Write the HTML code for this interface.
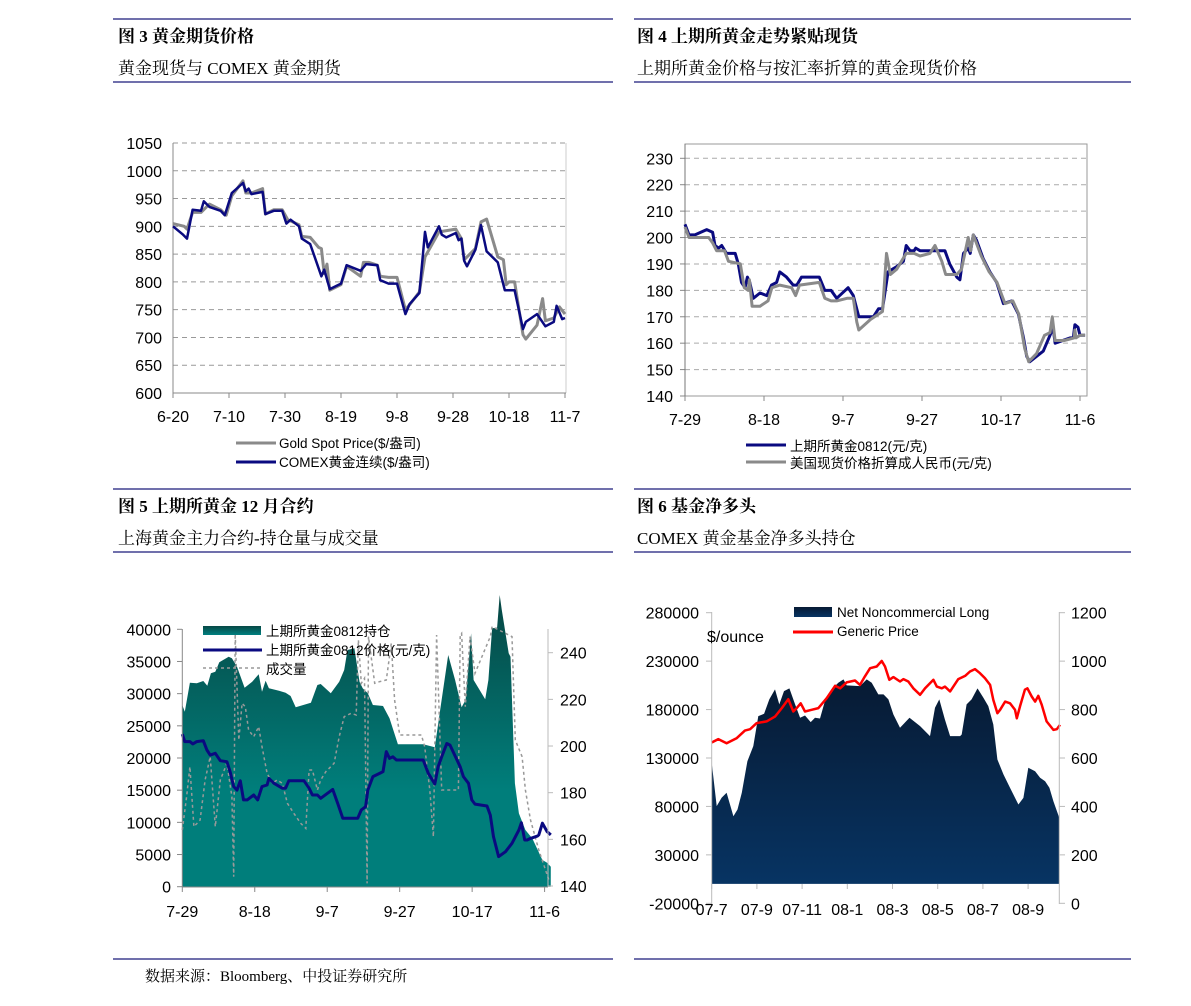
<!DOCTYPE html>
<html><head><meta charset="utf-8">
<style>
html,body{margin:0;padding:0;background:#fff;}
body{width:1191px;height:1006px;position:relative;overflow:hidden;}
svg{position:absolute;left:0;top:0;}
.hd{font-family:"Liberation Serif","Noto Serif CJK SC",serif;fill:#000;}
.tk{font-family:"Liberation Sans","Noto Sans CJK SC",sans-serif;font-size:16px;fill:#000;}
.lg{font-family:"Liberation Sans","Noto Sans CJK SC",sans-serif;font-size:13.5px;fill:#000;}
</style></head>
<body>
<svg id="s" width="1191" height="1006" viewBox="0 0 1191 1006" xmlns="http://www.w3.org/2000/svg">
<defs>
<linearGradient id="teal" gradientUnits="userSpaceOnUse" x1="0" y1="600" x2="0" y2="790">
<stop offset="0" stop-color="#074845"/><stop offset="1" stop-color="#007e7b"/></linearGradient>
<linearGradient id="navy" gradientUnits="userSpaceOnUse" x1="0" y1="680" x2="0" y2="884">
<stop offset="0" stop-color="#071a33"/><stop offset="1" stop-color="#073463"/></linearGradient>
<linearGradient id="tealsw" x1="0" y1="0" x2="0" y2="1"><stop offset="0" stop-color="#074845"/><stop offset="1" stop-color="#008080"/></linearGradient>
<linearGradient id="navysw" x1="0" y1="0" x2="0" y2="1"><stop offset="0" stop-color="#071a33"/><stop offset="1" stop-color="#073463"/></linearGradient>
</defs>
<g>
<line x1="113" y1="19" x2="613" y2="19" stroke="#1a1a7a" stroke-width="1.3"/>
<text class="hd" x="118" y="42" font-size="17" font-weight="bold">图 3  黄金期货价格</text>
<text class="hd" x="118" y="74" font-size="17">黄金现货与 COMEX 黄金期货</text>
<line x1="113" y1="82" x2="613" y2="82" stroke="#1a1a7a" stroke-width="1.3"/>
</g>
<g>
<line x1="634" y1="19" x2="1131" y2="19" stroke="#1a1a7a" stroke-width="1.3"/>
<text class="hd" x="637" y="42" font-size="17" font-weight="bold">图 4  上期所黄金走势紧贴现货</text>
<text class="hd" x="637" y="74" font-size="17">上期所黄金价格与按汇率折算的黄金现货价格</text>
<line x1="634" y1="82" x2="1131" y2="82" stroke="#1a1a7a" stroke-width="1.3"/>
</g>
<g>
<line x1="113" y1="489" x2="613" y2="489" stroke="#1a1a7a" stroke-width="1.3"/>
<text class="hd" x="118" y="512" font-size="17" font-weight="bold">图 5  上期所黄金 12 月合约</text>
<text class="hd" x="118" y="544" font-size="17">上海黄金主力合约-持仓量与成交量</text>
<line x1="113" y1="552" x2="613" y2="552" stroke="#1a1a7a" stroke-width="1.3"/>
</g>
<g>
<line x1="634" y1="489" x2="1131" y2="489" stroke="#1a1a7a" stroke-width="1.3"/>
<text class="hd" x="637" y="512" font-size="17" font-weight="bold">图 6  基金净多头</text>
<text class="hd" x="637" y="544" font-size="17">COMEX 黄金基金净多头持仓</text>
<line x1="634" y1="552" x2="1131" y2="552" stroke="#1a1a7a" stroke-width="1.3"/>
</g>
<line x1="113" y1="959" x2="613" y2="959" stroke="#1a1a7a" stroke-width="1.3"/>
<line x1="634" y1="959" x2="1131" y2="959" stroke="#1a1a7a" stroke-width="1.3"/>
<text class="hd" x="145" y="981" font-size="15">数据来源：Bloomberg、中投证券研究所</text>
<g id="c1"></g>
<g id="c2"></g>
<g id="c3"></g>
<g id="c4"></g>
</svg>
<script>
// ---- Chart 1 data (days since 6-20) ----
const c1Ticks=["6-20","7-10","7-30","8-19","9-8","9-28","10-18","11-7"];
const c1YTicks=[600,650,700,750,800,850,900,950,1000,1050];
const c1ComexDays=[0,3.6,5,7,10,11,13,17,18.5,21,25,26,27,28,32,33,36,39,40.5,42,45,46,49,53,54,56,60,62,67,69,73,74,77,80,83,84.5,88,90,91,95,96,97.6,101,102,103,104,105,108,110,112,116,118.5,122,125,126,130,133,136,137,139,140];
const c1ComexVals=[900,885,878,930,928,945,935,928,920,960,978,963,968,958,962,922,928,928,905,912,900,878,868,810,822,787,797,830,820,832,830,803,797,797,742,760,780,890,862,900,885,880,888,875,878,838,828,858,902,855,835,785,785,715,728,742,720,728,757,733,735];
const c1SpotDays=[0,4,5,7,10,13,17,19,21,25,26,28,32,33,36,39,41,45,46,49,52,53,54,55,56,60,62,67,68,70,73,74,77,80,83,85,88,90,95,101,103,104,108,110,112,116,118,119,120,122,125,126,130,132,133,136,138,140];
const c1SpotVals=[905,900,895,925,925,940,930,920,955,982,960,960,968,922,930,930,912,903,882,880,862,860,815,832,785,795,828,810,835,835,830,810,808,808,750,762,782,845,890,895,878,840,860,908,913,845,840,795,800,800,705,697,722,770,730,735,755,742];
// ---- Chart 2 data (days since 7-29) ----
const c2Ticks=["7-29","8-18","9-7","9-27","10-17","11-6"];
const c2YTicks=[140,150,160,170,180,190,200,210,220,230];
const c2ShfeDays=[0,1,2.5,4,5.5,7,7.6,8.5,9.3,10.5,12.7,13.5,14.3,15.2,15.8,16.4,17.3,19,20.7,21.9,23.2,24,25.7,27.4,28.3,29.5,34,35.4,37,38.4,41.3,42.6,44,47.7,49,50,51,51.4,53.6,55.3,56,57,58,58.4,59.5,65.8,67,68.8,69.6,70.5,71.7,72.2,73,73.8,75.5,77.2,78.9,80.6,82.7,84.4,85.7,86.5,87.3,90.7,92.4,93.2,93.7,97.5,98.3,98.7,99.5,100,101.3];
const c2ShfeVals=[205,201,201,202,203,202,197,196,197,194,194,190,183,181,185,183,177,179,178,182,183,187,185,182,182,185,185,180,180,177,181,178,170,170,173,173,183,187,189,191,197,195,195,196,195,195,190,185,184,194,196,194,201,199,192,187,183,175,176,171,162,155,153,157,163,166,160,162,162,167,166,163,163];
const c2SpotDays=[0,1,3,6,7,8,10,11,14,15,16,16.3,17,19,21,22,24,27,28,29,34,35.4,37,38.4,41,42.6,43.5,44,47,49,50,51,52,53.6,56,58,59.5,62,63.3,65,66,68.8,70,71.7,72.3,73,75,77,79,81,83,84.5,86,87,89,91,92.4,93,93.7,96,98.5,98.7,99,100,101.3];
const c2SpotVals=[204,200,200,200,198,195,195,191,190,181,180,184,174,174,176,181,182,181,178,182,183,177,176,176,177,177,168,165,169,171,172,194,186,188,194,194,193,194,197,191,186,186,188,200,195,201,193,187,183,175,176,171,158,153,156,163,164,170,161,161,162,165,162,163,163];
// ---- Chart 3 data (days since 7-29) ----
const c3Ticks=["7-29","8-18","9-7","9-27","10-17","11-6"];
const c3LeftTicks=[0,5000,10000,15000,20000,25000,30000,35000,40000];
const c3RightTicks=[140,160,180,200,220,240];
const c3OiDays=[0,0.7,2.1,4,5.8,6.9,7.9,9.1,10.2,12.8,13.7,15.1,17.2,19.3,21.1,22,23,23.9,26.7,28.5,29.9,31.3,35.5,37.3,38.2,41,43.3,44.7,45.6,47.5,48.9,49.8,51.2,52.6,55.4,57.2,59.5,66.5,69.7,71.1,73.4,75.3,77.1,78.2,79.7,80.4,83.6,84.5,85.5,86.9,87.6,88.2,90.1,90.6,91.8,92.9,94.7,96.6,99.4,100.7,101.7];
const c3OiVals=[28236,27200,31708,31604,31967,31241,33158,33417,34868,35749,35490,34195,30931,31863,33003,30309,32019,30827,30464,30153,29635,27874,28599,31345,31500,30050,31863,33676,36785,37044,31863,30827,30050,28236,28081,26164,22123,22123,21657,27200,36008,32122,27874,29014,39376,32122,29117,32122,40153,40257,45334,43002,36267,35749,16061,11398,8808,7512,4145,3730,3109];
const c3PriceDays=[0,0.7,2.1,2.9,4,5.8,6.8,7.7,9.1,10.5,12.3,13.2,14.2,15.1,16,16.9,17.9,19.7,20.8,22,23.4,23.9,25.3,27.6,28.5,29.4,33.6,35,35.9,37.3,38.2,41.5,42.9,44.3,48.4,49.4,50.6,51.2,52.6,55.4,56.3,57.2,58.1,59.1,66.5,67.9,69.7,70.6,71.6,73,73.9,76.7,77.6,79,79.9,80.8,84.1,85,85.9,87.3,89.2,91,92.9,93.6,94.5,95.2,96.1,98,98.4,99.4,100.7,101.7];
const c3PriceVals=[205.1,201.9,201.9,200.9,201.9,202.3,198.3,196.1,196.9,193.7,193.3,189,182.6,181.1,185.1,176.9,176.9,179,176.9,182.6,183.3,186.1,184,181.9,181.9,185.1,185.1,181.9,179,179,177.6,181.4,175.4,169,169,172.6,174,181.1,186.9,189,197.6,194.7,195.4,194,194,188.3,183.7,191.1,195.4,201.1,200.4,191.1,186.9,184,176.9,175.1,174.3,170.4,161.1,152.6,154.7,158.3,164,167.1,159.7,159.7,160.4,161.4,161.9,166.9,163.3,161.9];
const c3VolDays=[0,1.2,2.1,3.2,4.9,6.3,7.7,9.1,10.5,12.3,13.7,14.2,14.6,15.6,16.5,17.4,18.3,19.7,21.1,22,23.4,24.8,26.2,27.6,29,30.8,32.7,34.1,35,35.9,37.3,38.2,39.6,41.9,43.3,44.7,46.6,48,48.6,49.4,50.3,51,51.4,53.1,54.4,56.3,57.7,58.6,60,66,66.9,68.3,69.3,70.2,71.6,76.2,76.7,77.1,78.1,79.4,80.8,85,85.5,91,91.9,93.8,94.7,96.1,98.4,101.2];
const c3VolVals=[8808,13989,18652,9326,10362,16579,20206,9326,16579,19170,13989,1554,39376,22796,28496,27977,24351,23315,24869,21760,17615,16061,16579,16061,12953,11398,9844,9067,18134,18134,15025,16579,17874,19170,23315,26423,26941,26682,38339,31604,32381,518,38858,31604,31863,32122,37821,29014,23574,23574,21760,15025,7772,39117,15025,15025,39117,39376,27977,38858,33158,38858,40412,38858,22796,20206,15025,10362,5699,1036];
// ---- Chart 4 data (months since 2007-07) ----
const c4Ticks=["07-7","07-9","07-11","08-1","08-3","08-5","08-7","08-9"];
const c4LeftTicks=[-20000,30000,80000,130000,180000,230000,280000];
const c4RightTicks=[0,200,400,600,800,1000,1200];
const c4LongMonths=[0,.22,.44,.66,.96,1.14,1.33,1.58,1.84,2.06,2.32,2.55,2.8,2.99,3.2,3.44,3.69,3.91,4.13,4.38,4.57,4.79,5.01,5.31,5.6,5.83,5.97,6.56,6.86,7.08,7.37,7.6,7.82,8.04,8.33,8.75,9.22,9.66,9.88,10.07,10.32,10.55,10.99,11.06,11.28,11.5,11.76,12.02,12.24,12.46,12.64,12.91,13.2,13.57,13.79,14.01,14.31,14.53,14.75,14.94,15.12,15.38];
const c4LongVals=[125017,80365,88975,94141,69913,76801,94141,126739,142237,173233,175644,190453,200785,185287,199063,201818,185287,171511,173922,167034,171511,170822,188731,200785,207673,211117,204918,204229,211117,207673,195619,195619,190453,174955,161179,171511,162902,152569,181843,190453,169789,152569,152569,154291,185287,190453,201818,192175,183565,164623,128461,112962,99187,81967,88855,119851,116407,109519,106075,99187,85411,68191];
const c4PriceMonths=[0,.29,.66,1.11,1.47,1.7,1.99,2.43,2.8,3.1,3.39,3.61,3.76,3.94,4.13,4.42,4.72,5.09,5.46,5.68,5.97,6.34,6.56,6.78,7.01,7.3,7.52,7.67,7.86,8.04,8.33,8.48,8.7,8.92,9.22,9.44,9.81,9.96,10.18,10.32,10.55,10.91,11.21,11.43,11.65,11.87,12.09,12.32,12.46,12.64,12.76,12.98,13.2,13.42,13.5,13.64,13.86,13.97,14.16,14.31,14.45,14.6,14.82,15.12,15.27,15.41];
const c4PriceVals=[664,678,661,682,713,719,744,751,771,806,843,792,806,826,792,799,806,847,898,888,912,920,902,937,971,978,1001,978,923,934,916,926,916,888,861,888,923,895,888,895,875,926,939,957,967,950,930,902,840,785,799,833,826,799,764,813,882,888,854,833,857,820,751,716,719,737];

const NS='http://www.w3.org/2000/svg';
function mk(parent,tag,attrs,txt){const e=document.createElementNS(NS,tag);for(const k in attrs)e.setAttribute(k,attrs[k]);if(txt!==undefined)e.textContent=txt;parent.appendChild(e);return e;}
function lin(d0,d1,r0,r1){return v=>r0+(v-d0)/(d1-d0)*(r1-r0);}
function pathD(xs,ys,fx,fy){return xs.map((x,i)=>(i?'L':'M')+fx(x).toFixed(1)+' '+fy(ys[i]).toFixed(1)).join(' ');}

// ===== Chart 1 =====
(function(){
const g=document.getElementById('c1');
const X=lin(0,140,173,565), Y=lin(600,1050,393,143);
c1YTicks.forEach(v=>{
 if(v>600){const l=mk(g,'line',{x1:173,x2:566,y1:Y(v),y2:Y(v),stroke:'#999','stroke-dasharray':'5,4','stroke-width':1});
 }
 const t=mk(g,'text',{class:'tk',x:162,y:Y(v)+6,'text-anchor':'end'},String(v));
 
});
mk(g,'line',{x1:566,x2:566,y1:143,y2:393,stroke:'#ccc'});
mk(g,'line',{x1:173,x2:173,y1:143,y2:393,stroke:'#888'});
mk(g,'line',{x1:173,x2:566,y1:393,y2:393,stroke:'#888'});
c1Ticks.forEach((s,i)=>{const x=X(i*20);
 mk(g,'line',{x1:x,x2:x,y1:393,y2:398,stroke:'#888'});
 const t=mk(g,'text',{class:'tk',x:x,y:422,'text-anchor':'middle'},s);
 });
const p1=mk(g,'path',{d:pathD(c1SpotDays,c1SpotVals,X,Y),fill:'none',stroke:'#8a8a8a','stroke-width':3,'stroke-linejoin':'round'});

const p2=mk(g,'path',{d:pathD(c1ComexDays,c1ComexVals,X,Y),fill:'none',stroke:'#0a0a80','stroke-width':2.5,'stroke-linejoin':'round'});

const lg=mk(g,'g',{});
mk(lg,'line',{x1:236,x2:276,y1:443,y2:443,stroke:'#8a8a8a','stroke-width':3});
mk(lg,'text',{class:'lg',x:279,y:448},'Gold Spot Price($/盎司)');
mk(lg,'line',{x1:236,x2:276,y1:462,y2:462,stroke:'#0a0a80','stroke-width':3});
mk(lg,'text',{class:'lg',x:279,y:467},'COMEX黄金连续($/盎司)');
})();

// ===== Chart 2 =====
(function(){
const g=document.getElementById('c2');
const X=lin(0,100,685,1080), Y=lin(140,230,396,158.3);
mk(g,'rect',{x:685,y:144,width:402,height:252,fill:'none',stroke:'#999'});
c2YTicks.forEach(v=>{
 if(v>140){const l=mk(g,'line',{x1:685,x2:1087,y1:Y(v),y2:Y(v),stroke:'#aaa','stroke-dasharray':'5,4'});
 }
 mk(g,'line',{x1:680,x2:685,y1:Y(v),y2:Y(v),stroke:'#888'});
 const t=mk(g,'text',{class:'tk',x:673,y:Y(v)+6,'text-anchor':'end'},String(v));
 
});
mk(g,'line',{x1:685,x2:685,y1:144,y2:396,stroke:'#777'});
c2Ticks.forEach((s,i)=>{const x=X(i*20);
 mk(g,'line',{x1:x,x2:x,y1:396,y2:401,stroke:'#888'});
 const t=mk(g,'text',{class:'tk',x:x,y:425,'text-anchor':'middle'},s);
 });
const p1=mk(g,'path',{d:pathD(c2ShfeDays,c2ShfeVals,X,Y),fill:'none',stroke:'#0a0a80','stroke-width':3,'stroke-linejoin':'round'});

const p2=mk(g,'path',{d:pathD(c2SpotDays,c2SpotVals,X,Y),fill:'none',stroke:'#8a8a8a','stroke-width':3,'stroke-linejoin':'round'});

const lg=mk(g,'g',{});
mk(lg,'line',{x1:746,x2:786,y1:445,y2:445,stroke:'#0a0a80','stroke-width':3});
mk(lg,'text',{class:'lg',x:790,y:451,'font-size':14},'上期所黄金0812(元/克)');
mk(lg,'line',{x1:746,x2:786,y1:462,y2:462,stroke:'#8a8a8a','stroke-width':3});
mk(lg,'text',{class:'lg',x:790,y:468,'font-size':14},'美国现货价格折算成人民币(元/克)');
})();

// ===== Chart 3 =====
(function(){
const g=document.getElementById('c3');
const X=lin(0,100,182.3,544.6), YL=lin(0,40000,886.7,629.3), YR=lin(140,240,886,652.7);
const d='M'+X(c3OiDays[0])+' '+YL(0)+' '+pathD(c3OiDays,c3OiVals,X,YL).replace('M','L')+' L'+X(c3OiDays[c3OiDays.length-1])+' '+YL(0)+' Z';
const a=mk(g,'path',{d:d,fill:'url(#teal)'});

const v=mk(g,'path',{d:pathD(c3VolDays,c3VolVals,X,YL),fill:'none',stroke:'#999','stroke-width':1.5,'stroke-dasharray':'3,3'});

const p=mk(g,'path',{d:pathD(c3PriceDays,c3PriceVals,X,YR),fill:'none',stroke:'#0a0a80','stroke-width':3,'stroke-linejoin':'round'});

mk(g,'line',{x1:182.3,x2:182.3,y1:629,y2:887,stroke:'#888'});
mk(g,'line',{x1:548,x2:548,y1:629,y2:887,stroke:'#bbb'});
mk(g,'line',{x1:182.3,x2:548,y1:887,y2:887,stroke:'#888'});
c3LeftTicks.forEach(val=>{
 mk(g,'line',{x1:177,x2:182,y1:YL(val),y2:YL(val),stroke:'#888'});
 const t=mk(g,'text',{class:'tk',x:171,y:YL(val)+6,'text-anchor':'end'},String(val));
 });
c3RightTicks.forEach(val=>{
 mk(g,'line',{x1:548,x2:553,y1:YR(val),y2:YR(val),stroke:'#bbb'});
 const t=mk(g,'text',{class:'tk',x:560,y:YR(val)+6},String(val));
 });
c3Ticks.forEach((s,i)=>{const x=X(i*20);
 mk(g,'line',{x1:x,x2:x,y1:887,y2:892,stroke:'#888'});
 const t=mk(g,'text',{class:'tk',x:x,y:917,'text-anchor':'middle'},s);
 });
const lg=mk(g,'g',{});
mk(lg,'rect',{x:203,y:626,width:58,height:9,fill:'url(#tealsw)'});
mk(lg,'text',{class:'lg',x:266,y:636,'font-size':14},'上期所黄金0812持仓');
mk(lg,'line',{x1:203,x2:262,y1:650,y2:650,stroke:'#0a0a80','stroke-width':3});
mk(lg,'text',{class:'lg',x:266,y:655,'font-size':14},'上期所黄金0812价格(元/克)');
mk(lg,'line',{x1:203,x2:262,y1:668,y2:668,stroke:'#999','stroke-width':1.5,'stroke-dasharray':'3,3'});
mk(lg,'text',{class:'lg',x:266,y:674,'font-size':14},'成交量');
})();

// ===== Chart 4 =====
(function(){
const g=document.getElementById('c4');
const X=lin(0,15.38,711.7,1059.3), YL=lin(-20000,280000,903.3,612.7), YR=lin(0,1200,903.3,612.7);
const d='M'+X(c4LongMonths[0])+' '+YL(0)+' '+pathD(c4LongMonths,c4LongVals,X,YL).replace('M','L')+' L'+X(c4LongMonths[c4LongMonths.length-1])+' '+YL(0)+' Z';
const a=mk(g,'path',{d:d,fill:'url(#navy)'});

const p=mk(g,'path',{d:pathD(c4PriceMonths,c4PriceVals,X,YR),fill:'none',stroke:'#f00','stroke-width':2.5,'stroke-linejoin':'round'});

mk(g,'line',{x1:711.7,x2:711.7,y1:612,y2:904,stroke:'#bbb'});
mk(g,'line',{x1:1059.3,x2:1059.3,y1:612,y2:904,stroke:'#bbb'});
c4LeftTicks.forEach(val=>{
 mk(g,'line',{x1:706,x2:711.7,y1:YL(val),y2:YL(val),stroke:'#bbb'});
 const t=mk(g,'text',{class:'tk',x:699,y:YL(val)+6,'text-anchor':'end'},String(val));
 });
c4RightTicks.forEach(val=>{
 mk(g,'line',{x1:1059.3,x2:1065,y1:YR(val),y2:YR(val),stroke:'#bbb'});
 const t=mk(g,'text',{class:'tk',x:1071,y:YR(val)+6},String(val));
 });
c4Ticks.forEach((s,i)=>{const x=X(i*2);
 mk(g,'line',{x1:x,x2:x,y1:884,y2:889,stroke:'#bbb'});
 const t=mk(g,'text',{class:'tk',x:x,y:915,'text-anchor':'middle'},s);
 });
const u=mk(g,'text',{class:'tk',x:707,y:642},'$/ounce');

const lg=mk(g,'g',{});
mk(lg,'rect',{x:794,y:607,width:38,height:10,fill:'url(#navysw)'});
mk(lg,'text',{class:'lg',x:837,y:617,'font-size':14},'Net Noncommercial Long');
mk(lg,'line',{x1:793,x2:833,y1:632,y2:632,stroke:'#f00','stroke-width':3});
mk(lg,'text',{class:'lg',x:837,y:636,'font-size':14},'Generic Price');
})();
</script>
</body></html>
